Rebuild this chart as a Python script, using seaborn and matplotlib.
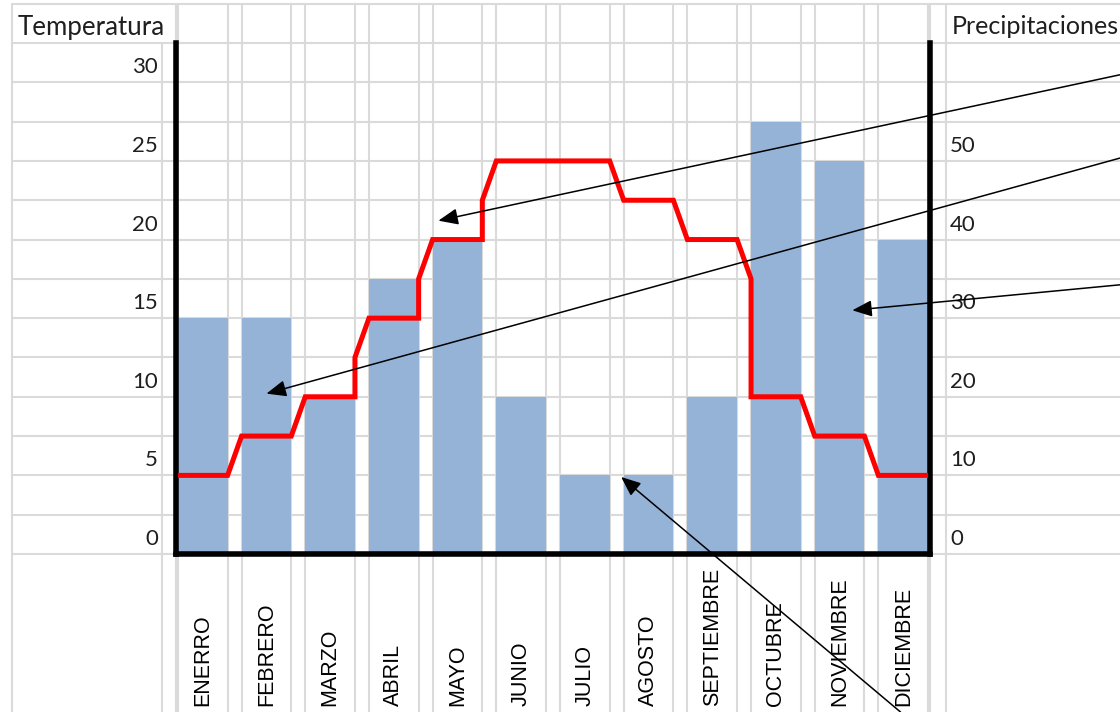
import matplotlib
matplotlib.use("Agg")
import matplotlib.pyplot as plt
import matplotlib.transforms as mtransforms
from matplotlib.lines import Line2D
import pandas as pd
import seaborn as sns

# Climograma: temperatura media (línea) y precipitaciones (barras) por mes
meses = ["ENERRO", "FEBRERO", "MARZO", "ABRIL", "MAYO", "JUNIO", "JULIO",
         "AGOSTO", "SEPTIEMBRE", "OCTUBRE", "NOVIEMBRE", "DICIEMBRE"]
temperatura = [5, 7.5, 10, 15, 20, 25, 25, 22.5, 20, 10, 7.5, 5]
precipitaciones = [30, 30, 20, 35, 40, 20, 10, 10, 20, 55, 50, 40]
ticks_temp = [0, 5, 10, 15, 20, 25, 30]
ticks_prec = [0, 10, 20, 30, 40, 50]

# callouts: (tip in data coords, tail in figure fraction)
flechas = [
    ((3.7, 21.2), (1.0, 0.895)),
    ((1.0, 10.2), (1.0, 0.778)),
    ((10.2, 15.5), (1.0, 0.600)),
    ((6.57, 4.9), (0.804, 0.0)),
]

sns.set_theme(style="white")
plt.rcParams["font.family"] = ["Lato", "DejaVu Sans"]

W, H = 1120, 712
AZUL = "#95B3D7"
ROJO = "#FF0000"
CELDA = "#DADADA"
TEXTO = "#1F1F1F"

fig = plt.figure(figsize=(W / 100, H / 100), dpi=100, facecolor="white")
ax = fig.add_axes([176 / W, 1 - 554 / H, (930 - 176) / W, (554 - 43) / H])
ax2 = ax.twinx()

half = 0.39
x_lim = (-0.42, 11.42)

# precipitation bars on the right-hand scale
df = pd.DataFrame({"mes": meses, "prec": precipitaciones})
sns.barplot(data=df, x="mes", y="prec", ax=ax2, color=AZUL,
            saturation=1, width=2 * half, linewidth=0, edgecolor="none",
            zorder=2)

ax.set_xlim(*x_lim)
ax.set_ylim(0, 32.5)
ax2.set_ylim(0, 65)

# temperature line: flat across each bar, joined in the gaps
paso = 2.5
xs, ys = [], []
for i, t in enumerate(temperatura):
    xs += [i - half, i + half]
    ys += [t, t]
    if i + 1 < len(temperatura):
        nxt = temperatura[i + 1]
        if abs(nxt - t) > paso:
            if nxt > t:
                xs.append(i + half)
                ys.append(nxt - paso)
            else:
                xs.append(i + 1 - half)
                ys.append(t - paso)
ax.plot(xs, ys, color=ROJO, lw=3.6, solid_joinstyle="miter",
        solid_capstyle="butt", zorder=3)

ax.set_zorder(ax2.get_zorder() + 1)
ax.patch.set_visible(False)
ax2.patch.set_visible(False)
ax.set_xlabel("")
ax.set_ylabel("")
ax2.set_xlabel("")
ax2.set_ylabel("")

for s in ax2.spines.values():
    s.set_visible(False)
ax.spines["top"].set_visible(False)
for name in ("left", "right", "bottom"):
    sp = ax.spines[name]
    sp.set_visible(True)
    sp.set_color("black")
    sp.set_linewidth(4)
    sp.set_capstyle("projecting")

# axis labels
ax.set_yticks(ticks_temp)
ax2.set_yticks(ticks_prec)
ax.set_xticks(range(len(meses)))
ax.set_xticklabels(meses, rotation=90, fontfamily="Liberation Sans", fontsize=15.5)
ax.tick_params(axis="y", length=0, pad=13, labelsize=16, labelcolor=TEXTO)
ax2.tick_params(axis="y", length=0, pad=14.5, labelsize=16, labelcolor=TEXTO)
ax.tick_params(axis="x", length=0, pad=109.5, labelcolor="black")

subir = mtransforms.ScaledTranslation(0, 17 / 100, fig.dpi_scale_trans)
for lbl in ax.get_yticklabels():
    lbl.set_transform(lbl.get_transform() + subir)
for lbl in ax2.get_yticklabels():
    lbl.set_transform(lbl.get_transform() + subir)
for lbl in ax.get_xticklabels():
    lbl.set_va("bottom")

fig.text(18 / W, 1 - 27 / H, "Temperatura", ha="left", va="center",
         fontsize=18.6, color=TEXTO)
fig.text(952 / W, 1 - 27 / H, "Precipitaciones", ha="left", va="center",
         fontsize=18.1, color=TEXTO)

# spreadsheet cell grid behind the chart
fila_sup = 35
top_fig = fig.transFigure.inverted().transform(
    ax.transData.transform((0, fila_sup)))[1]
row_fig = fig.transFigure.inverted().transform(
    ax.transData.transform((0, 32.5)))[1]
h_tr = mtransforms.blended_transform_factory(fig.transFigure, ax.transData)
v_tr = mtransforms.blended_transform_factory(ax.transData, fig.transFigure)
f_tr = fig.transFigure

v = 0.0
while v <= fila_sup + 1e-9:
    fig.add_artist(Line2D([12 / W, 1], [v, v], transform=h_tr,
                          color=CELDA, lw=1.5, zorder=-1))
    v += paso

col_x = [e for i in range(len(meses)) for e in (i - half, i + half)]
col_x += list(x_lim)
for x in col_x:
    fig.add_artist(Line2D([x, x], [0, top_fig], transform=v_tr,
                          color=CELDA, lw=1.5, zorder=-1))
for xf, ytop in ((12 / W, top_fig), (162 / W, row_fig), (946 / W, top_fig)):
    fig.add_artist(Line2D([xf, xf], [0, ytop], transform=f_tr,
                          color=CELDA, lw=1.5, zorder=-1))

# callout arrows
for tip, tail in flechas:
    ax.annotate("", xy=tip, xycoords="data", xytext=tail,
                textcoords="figure fraction", annotation_clip=False,
                arrowprops=dict(arrowstyle="-|>,head_length=0.6,head_width=0.25",
                                color="black", lw=1.1, shrinkA=0, shrinkB=0,
                                mutation_scale=20),
                zorder=5)

fig.savefig("out.png", dpi=100, facecolor="white")
